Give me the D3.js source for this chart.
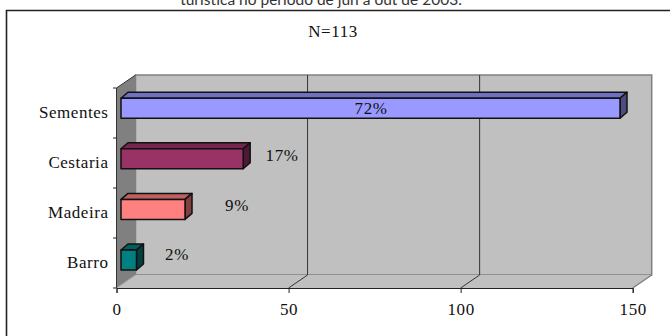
<!DOCTYPE html>
<html>
<head>
<meta charset="utf-8">
<script src="https://cdn.jsdelivr.net/npm/d3@7"></script>
<style>
html,body{margin:0;padding:0;background:#fff;overflow:hidden}
svg{display:block}
text{fill:#111}
.serif text,text.serif{font-family:"Liberation Serif",serif;font-size:17px;letter-spacing:.55px}
</style>
</head>
<body>
<script>
const categories = ["Sementes", "Cestaria", "Madeira", "Barro"];
const counts = [145, 35.5, 18.6, 4.5];
const percentLabels = ["72%", "17%", "9%", "2%"];
const frontColors = ["#9999ff", "#993366", "#ff8080", "#008080"];
const topColors = ["#6f6fc4", "#732650", "#bf6060", "#006060"];
const sideColors = ["#4c4c80", "#4d1a33", "#804040", "#004040"];
const xTicks = [0, 50, 100, 150];
const sampleNote = "N=113";
const heading = "turística no período de jun a out de 2003.";

const W = 670, H = 336;
const svg = d3.select("body").append("svg").attr("width", W).attr("height", H);

// Heading runs off the top edge of the page
svg.append("text").attr("x", 321).attr("y", 5).attr("text-anchor", "middle")
  .style("font-family", "Lato, sans-serif").style("font-size", "15.5px").style("fill", "#333")
  .text(heading);

// Chart frame: only the top and left edges fall inside the page
svg.append("path").attr("d", `M6.5,${H + 2}V10.5H${W + 2}`)
  .attr("fill", "none").attr("stroke", "#222").attr("stroke-width", 1.6);

svg.append("text").attr("class", "serif").attr("x", 333).attr("y", 37)
  .attr("text-anchor", "middle").text(sampleNote);

const x = d3.scaleLinear().domain([0, 150]).range([116.5, 632.7]);
const plotTop = 88, plotBottom = 288;
const wallDx = 19, wallDy = 13;
const axisBand = d3.scaleBand().domain(categories).range([plotTop, plotBottom]);
const barBand = d3.scaleBand().domain(categories).range([82.9, 285.3]);
const barH = 20, barDx = 7, barDy = 6, barInset = 4.5;

const pts = a => a.map(p => p.join(",")).join(" ");

// Back wall, side wall and floor of the 3D plot box
svg.append("polygon").attr("fill", "#c0c0c0").attr("stroke", "#808080").attr("stroke-width", 1.5)
  .attr("points", pts([[x(0) + wallDx, plotTop - wallDy], [x(150) + wallDx, plotTop - wallDy],
                       [x(150) + wallDx, plotBottom - wallDy], [x(0) + wallDx, plotBottom - wallDy]]));
svg.append("polygon").attr("fill", "#c0c0c0")
  .attr("points", pts([[x(0), plotBottom], [x(0) + wallDx, plotBottom - wallDy],
                       [x(150) + wallDx, plotBottom - wallDy], [x(150), plotBottom]]));
svg.append("line").attr("x1", x(150)).attr("y1", plotBottom)
  .attr("x2", x(150) + wallDx).attr("y2", plotBottom - wallDy)
  .attr("stroke", "#808080").attr("stroke-width", 1.5);
svg.append("polygon").attr("fill", "#808080")
  .attr("points", pts([[x(0), plotTop], [x(0) + wallDx, plotTop - wallDy],
                       [x(0) + wallDx, plotBottom - wallDy], [x(0), plotBottom]]));
svg.append("line").attr("x1", x(0)).attr("y1", plotBottom)
  .attr("x2", x(0) + wallDx).attr("y2", plotBottom - wallDy)
  .attr("stroke", "#a0a0a0");
svg.append("line").attr("x1", x(0)).attr("y1", plotTop)
  .attr("x2", x(0) + wallDx).attr("y2", plotTop - wallDy)
  .attr("stroke", "#333");

// Gridlines climb the back wall after crossing the floor
svg.append("g").selectAll("path").data(xTicks.slice(1, 3)).join("path")
  .attr("fill", "none").attr("stroke", "#333").attr("stroke-width", 1)
  .attr("d", d => `M${x(d)},${plotBottom}L${x(d) + wallDx},${plotBottom - wallDy}V${plotTop - wallDy}`);

// Value axis
const xAxis = svg.append("g").attr("class", "serif").attr("transform", `translate(0,${plotBottom})`)
  .call(d3.axisBottom(x).tickValues(xTicks).tickSize(5).tickPadding(10));
xAxis.selectAll("path,line").attr("stroke", "#222");
xAxis.selectAll("text").style("font-family", "Liberation Serif").style("font-size", "17px").style("fill", "#111");

// Category axis: labels centred on each band, tick marks on the band edges
const yAxis = svg.append("g").attr("class", "serif").attr("transform", `translate(${x(0)},0)`)
  .call(d3.axisLeft(axisBand).tickSize(0).tickPadding(8));
yAxis.select("path").remove();
yAxis.selectAll("text").style("font-family", "Liberation Serif").style("font-size", "17px").style("fill", "#111");
svg.append("line").attr("x1", x(0)).attr("x2", x(0)).attr("y1", plotTop).attr("y2", plotBottom).attr("stroke", "#333");
svg.append("g").selectAll("line").data(d3.range(categories.length + 1)).join("line")
  .attr("x1", x(0) - 3.5).attr("x2", x(0))
  .attr("y1", i => plotTop + i * axisBand.step()).attr("y2", i => plotTop + i * axisBand.step())
  .attr("stroke", "#222");

// Bars: front, top and side faces
const rows = categories.map((name, i) => ({
  name, i, x0: x(0) + barInset, x1: x(counts[i]) + barInset,
  y0: barBand(name) + (barBand.bandwidth() - barH) / 2
}));
const bars = svg.append("g").attr("stroke", "#111").attr("stroke-width", 1.5).attr("stroke-linejoin", "round")
  .selectAll("g").data(rows).join("g");
bars.append("polygon").attr("fill", d => topColors[d.i])
  .attr("points", d => pts([[d.x0, d.y0], [d.x0 + barDx, d.y0 - barDy], [d.x1 + barDx, d.y0 - barDy], [d.x1, d.y0]]));
bars.append("polygon").attr("fill", d => sideColors[d.i])
  .attr("points", d => pts([[d.x1, d.y0], [d.x1 + barDx, d.y0 - barDy], [d.x1 + barDx, d.y0 + barH - barDy], [d.x1, d.y0 + barH]]));
bars.append("rect").attr("fill", d => frontColors[d.i])
  .attr("x", d => d.x0).attr("y", d => d.y0)
  .attr("width", d => d.x1 - d.x0).attr("height", barH);

// Percentage labels sit just right of short bars, inside the long one
const labelX = [371, 282, 237, 177];
const labelY = [114, 161, 211, 260];
svg.append("g").selectAll("text").data(percentLabels).join("text")
  .attr("class", "serif").attr("text-anchor", "middle")
  .attr("x", (d, i) => labelX[i]).attr("y", (d, i) => labelY[i]).text(d => d);
</script>
</body>
</html>
